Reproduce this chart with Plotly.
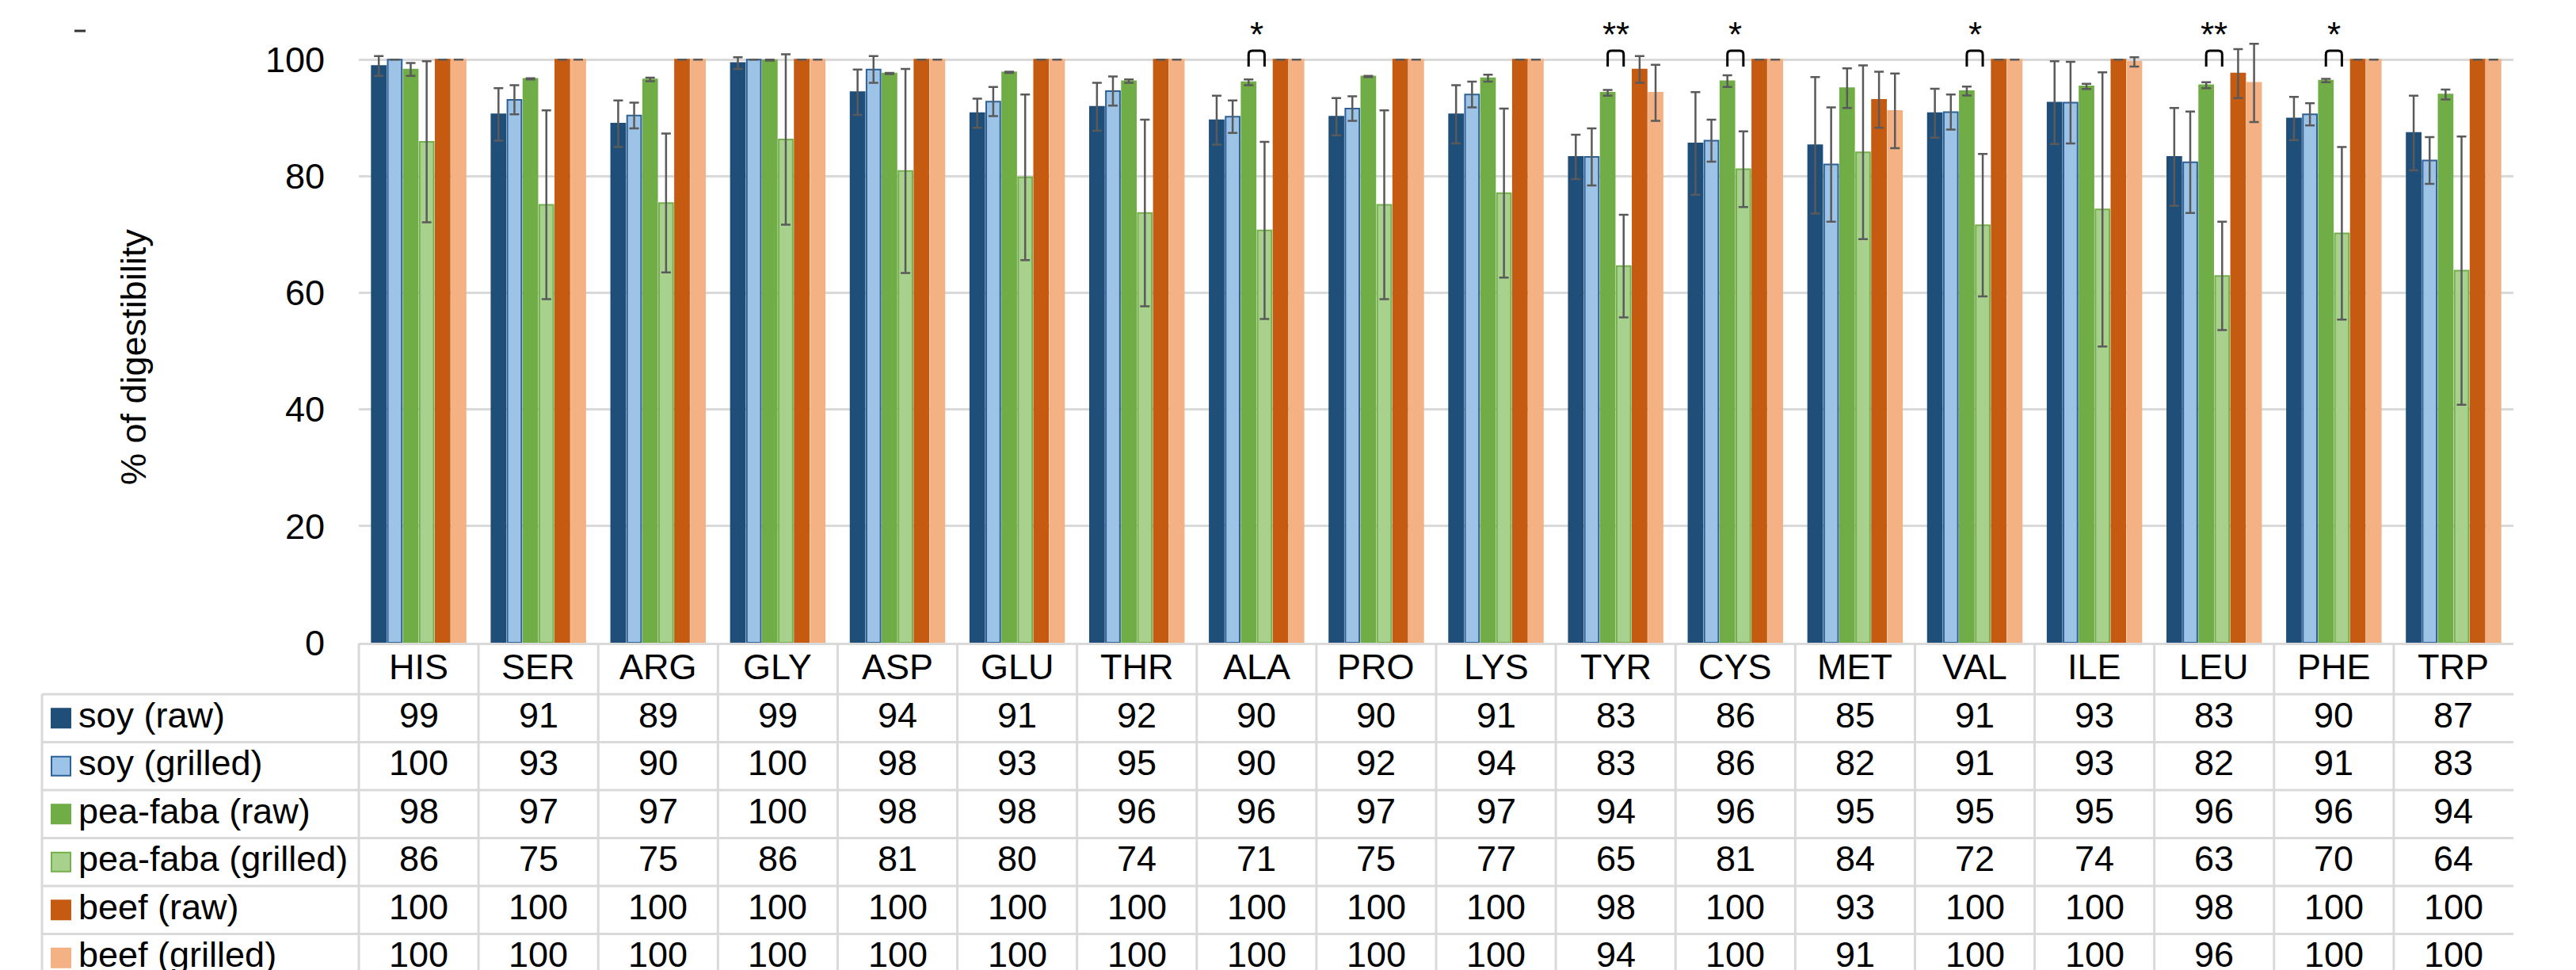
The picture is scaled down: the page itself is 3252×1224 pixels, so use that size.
import plotly.graph_objects as go

# ---------------- data ----------------
categories = ["HIS", "SER", "ARG", "GLY", "ASP", "GLU", "THR", "ALA", "PRO",
              "LYS", "TYR", "CYS", "MET", "VAL", "ILE", "LEU", "PHE", "TRP"]
series_names = ["soy (raw)", "soy (grilled)", "pea-faba (raw)",
                "pea-faba (grilled)", "beef (raw)", "beef (grilled)"]

soy_raw = [98.9, 90.6, 89.0, 99.4, 94.4, 90.8, 91.9, 89.6, 90.2,
           90.6, 83.3, 85.6, 85.3, 90.8, 92.6, 83.3, 89.9, 87.4]
soy_grilled = [100, 93.1, 90.4, 100, 98.3, 92.8, 94.6, 90.2, 91.6,
               94.0, 83.3, 86.1, 82.0, 91.0, 92.6, 82.4, 90.6, 82.7]
pea_raw = [98.3, 96.7, 96.6, 99.9, 97.6, 97.8, 96.3, 96.1, 97.1,
           96.8, 94.3, 96.3, 95.1, 94.6, 95.4, 95.6, 96.4, 94.0]
pea_grilled = [85.9, 75.1, 75.4, 86.3, 80.9, 79.8, 73.7, 70.7, 75.1,
               77.1, 64.6, 81.2, 84.1, 71.6, 74.3, 62.9, 70.2, 63.8]
beef_raw = [100, 100, 100, 100, 100, 100, 100, 100, 100,
            100, 98.3, 100, 93.1, 100, 100, 97.6, 100, 100]
beef_grilled = [100, 100, 100, 100, 100, 100, 100, 100, 100,
                100, 94.3, 100, 91.2, 100, 99.6, 96.0, 100, 100]

soy_raw_err = [1.7, 4.5, 4.0, 1.0, 3.9, 2.5, 4.1, 4.2, 3.2,
               5.0, 3.8, 8.8, 11.7, 4.2, 7.1, 8.4, 3.7, 6.4]
soy_grilled_err = [0, 2.5, 2.2, 0, 2.3, 2.5, 2.5, 2.8, 2.1,
                   2.2, 4.9, 3.6, 9.8, 3.0, 7.0, 8.7, 1.9, 4.0]
pea_raw_err = [1.1, 0.1, 0.3, 0.1, 0.1, 0.1, 0.3, 0.5, 0.1,
               0.6, 0.5, 1.0, 3.4, 0.75, 0.45, 0.5, 0.3, 0.85]
pea_grilled_err = [13.8, 16.2, 11.9, 14.6, 17.5, 14.2, 16.0, 15.2, 16.2,
                   14.5, 8.8, 6.5, 14.9, 12.2, 23.5, 9.3, 14.8, 23.0]
beef_raw_err = [0, 0, 0, 0, 0, 0, 0, 0, 0,
                0, 2.3, 0, 4.8, 0, 0, 4.2, 0, 0]
beef_grilled_err = [0, 0, 0, 0, 0, 0, 0, 0, 0,
                    0, 4.8, 0, 6.4, 0, 0.8, 6.7, 0, 0]

sig_categories = ["ALA", "TYR", "CYS", "VAL", "LEU", "PHE"]
sig_labels = ["*", "**", "*", "*", "**", "*"]

y_ticks = [0, 20, 40, 60, 80, 100]
y_title = "% of digestibility"

# ---------------- styling ----------------
series_values = [soy_raw, soy_grilled, pea_raw, pea_grilled, beef_raw, beef_grilled]
series_errors = [soy_raw_err, soy_grilled_err, pea_raw_err, pea_grilled_err,
                 beef_raw_err, beef_grilled_err]
fill_colors = ["#1F4E79", "#9DC3E6", "#70AD47", "#A9D18E", "#C55A11", "#F4B183"]
edge_colors = ["#1F4E79", "#2E6198", "#70AD47", "#74B04C", "#C55A11", "#F4B183"]

FONT = "Arial, Liberation Sans, sans-serif"
W, H = 3252, 1224
L, R, T, B = 445, 87, 23, 421
PW, PH = W - L - R, H - T - B
BARGAP = 0.2
GRID = "#d9d9d9"
FS = 45


def px(x):
    return (x - L) / PW


def py(y):
    return (H - B - y) / PH


xpos = list(range(len(categories)))

fig = go.Figure()
for name, vals, errs, fc, ec in zip(series_names, series_values, series_errors,
                                    fill_colors, edge_colors):
    fig.add_trace(go.Bar(
        x=xpos, y=vals, name=name,
        marker=dict(color=fc, line=dict(color=ec, width=2)),
        error_y=dict(type="data", array=errs, visible=True,
                     color="#5a5a5a", thickness=2.5, width=6),
    ))

shapes = []
annotations = []

# significance brackets between pea-faba raw and pea-faba grilled bars
slot = (1 - BARGAP) / len(series_names)
off2 = -(1 - BARGAP) / 2 + 2.5 * slot
off3 = -(1 - BARGAP) / 2 + 3.5 * slot
for cat, lab in zip(sig_categories, sig_labels):
    c = categories.index(cat)
    x0, x1 = c + off2, c + off3
    rx, ry = 0.03, 0.65
    ytop, ybot = 101.5, 98.8
    path = (f"M {x0},{ybot} L {x0},{ytop - ry} Q {x0},{ytop} {x0 + rx},{ytop} "
            f"L {x1 - rx},{ytop} Q {x1},{ytop} {x1},{ytop - ry} L {x1},{ybot}")
    shapes.append(dict(type="path", xref="x", yref="y", path=path,
                       line=dict(color="black", width=3)))
    annotations.append(dict(x=c, y=104.3, xref="x", yref="y", text=lab,
                            showarrow=False, yanchor="middle",
                            font=dict(size=44, color="black", family=FONT)))

# ---------------- data table ----------------
col_w = PW / len(categories)
hdr_top, row_top, row_h = H - B + 1, 868, 60.5
table_left = 45
bottom = H + 20
line = dict(color=GRID, width=3)

for i in range(len(categories)):
    xx = L + i * col_w
    shapes.append(dict(type="line", xref="paper", yref="paper",
                       x0=px(xx), x1=px(xx), y0=py(hdr_top), y1=py(bottom), line=line))
shapes.append(dict(type="line", xref="paper", yref="paper",
                   x0=px(table_left), x1=px(table_left),
                   y0=py(row_top), y1=py(bottom), line=line))
for r in range(len(series_names)):
    yy = row_top + r * row_h
    shapes.append(dict(type="line", xref="paper", yref="paper",
                       x0=px(table_left), x1=px(L + PW), y0=py(yy), y1=py(yy), line=line))

# header labels
for i, cat in enumerate(categories):
    annotations.append(dict(x=px(L + (i + 0.5) * col_w), y=py(833),
                            xref="paper", yref="paper", text=cat, showarrow=False,
                            xanchor="center", yanchor="middle",
                            font=dict(size=FS, color="black", family=FONT)))

# rows
for r, (name, vals) in enumerate(zip(series_names, series_values)):
    yc = row_top + (r + 0.5) * row_h
    yt = min(yc - 4, H - 28)
    shapes.append(dict(type="rect", xref="paper", yref="paper",
                       x0=px(57), x1=px(81), y0=py(yc - 12), y1=py(yc + 12),
                       fillcolor=fill_colors[r],
                       line=dict(color=edge_colors[r], width=2)))
    annotations.append(dict(x=px(89), y=py(yt), xref="paper", yref="paper",
                            text=name, showarrow=False, xanchor="left",
                            yanchor="middle",
                            font=dict(size=FS, color="black", family=FONT)))
    for i, v in enumerate(vals):
        annotations.append(dict(x=px(L + (i + 0.5) * col_w), y=py(yt),
                                xref="paper", yref="paper", text=str(int(round(v))),
                                showarrow=False, xanchor="center", yanchor="middle",
                                font=dict(size=FS, color="black", family=FONT)))

# y-axis title
annotations.append(dict(x=px(160), y=py(443), xref="paper", yref="paper",
                        text=y_title, textangle=-90, showarrow=False,
                        xanchor="center", yanchor="middle",
                        font=dict(size=45, color="black", family=FONT)))

# small stray dash at top-left of the original figure
shapes.append(dict(type="line", xref="paper", yref="paper",
                   x0=px(86), x1=px(100), y0=py(31), y1=py(31),
                   line=dict(color="#333333", width=3)))

fig.update_layout(
    width=W, height=H,
    margin=dict(l=L, r=R, t=T, b=B, pad=0),
    paper_bgcolor="white", plot_bgcolor="white",
    barmode="group", bargap=BARGAP, bargroupgap=0.12,
    showlegend=False,
    font=dict(family=FONT, color="black"),
    xaxis=dict(range=[-0.5, len(categories) - 0.5], showticklabels=False,
               showgrid=False, zeroline=False, showline=True,
               linecolor=GRID, linewidth=3, ticks="", fixedrange=True),
    yaxis=dict(range=[0, 106], tickvals=y_ticks, showgrid=True,
               gridcolor=GRID, gridwidth=2.5, zeroline=False, showline=False,
               ticks="", ticklabelstandoff=42,
               tickfont=dict(size=45, color="black", family=FONT)),
    shapes=shapes, annotations=annotations,
)

fig.write_html("out.html")
